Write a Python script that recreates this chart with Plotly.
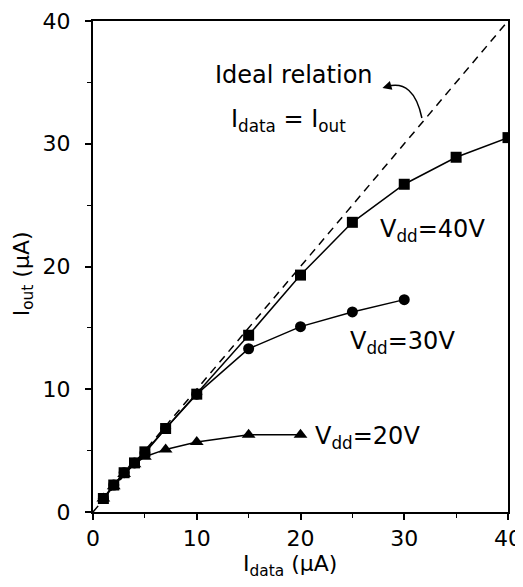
import plotly.graph_objects as go

# Data
x_40 = [1, 2, 3, 4, 5, 7, 10, 15, 20, 25, 30, 35, 40]
y_40 = [1.1, 2.2, 3.2, 4.0, 4.9, 6.8, 9.6, 14.4, 19.3, 23.6, 26.7, 28.9, 30.5]
x_30 = [1, 2, 3, 4, 5, 7, 10, 15, 20, 25, 30]
y_30 = [1.1, 2.2, 3.2, 4.0, 4.8, 6.8, 9.6, 13.3, 15.1, 16.3, 17.3]
x_20 = [1, 2, 3, 4, 5, 7, 10, 15, 20]
y_20 = [1.1, 2.1, 3.1, 3.9, 4.5, 5.1, 5.7, 6.3, 6.3]
ideal_x = [0, 40]
ideal_y = [0, 40]
tick_vals = [0, 10, 20, 30, 40]

FONT = "DejaVu Sans"

fig = go.Figure()
fig.add_trace(go.Scatter(x=ideal_x, y=ideal_y, mode="lines",
                         line=dict(color="black", width=1.5, dash="8px,6px"),
                         showlegend=False))
fig.add_trace(go.Scatter(x=x_20, y=y_20, mode="lines+markers",
                         line=dict(color="black", width=1.5),
                         marker=dict(symbol="triangle-up", size=12, color="black"),
                         showlegend=False))
fig.add_trace(go.Scatter(x=x_30, y=y_30, mode="lines+markers",
                         line=dict(color="black", width=1.5),
                         marker=dict(symbol="circle", size=11, color="black"),
                         showlegend=False))
fig.add_trace(go.Scatter(x=x_40, y=y_40, mode="lines+markers",
                         line=dict(color="black", width=1.5),
                         marker=dict(symbol="square", size=11, color="black"),
                         showlegend=False))

# curved arrow pointing from the ideal line to the label
fig.add_shape(type="path", xref="x", yref="y",
              path="M 31.7,32.1 Q 30.9,35.3 28.3,34.65",
              line=dict(color="black", width=1.5))
fig.add_annotation(x=27.9, y=34.55, ax=28.6, ay=34.72, xref="x", yref="y",
                   axref="x", ayref="y", text="", showarrow=True,
                   arrowhead=2, arrowsize=1.2, arrowwidth=1.5, arrowcolor="black")

ann_font = dict(family=FONT, size=24, color="black")
fig.add_annotation(x=11.6, y=35.6, xref="x", yref="y", text="Ideal relation",
                   showarrow=False, xanchor="left", yanchor="middle", font=ann_font)
fig.add_annotation(x=13.1, y=31.9, xref="x", yref="y",
                   text="I<sub>data</sub> = I<sub>out</sub>",
                   showarrow=False, xanchor="left", yanchor="middle", font=ann_font)
fig.add_annotation(x=27.5, y=22.9, xref="x", yref="y", text="V<sub>dd</sub>=40V",
                   showarrow=False, xanchor="left", yanchor="middle", font=ann_font)
fig.add_annotation(x=24.6, y=13.8, xref="x", yref="y", text="V<sub>dd</sub>=30V",
                   showarrow=False, xanchor="left", yanchor="middle", font=ann_font)
fig.add_annotation(x=21.2, y=6.1, xref="x", yref="y", text="V<sub>dd</sub>=20V",
                   showarrow=False, xanchor="left", yanchor="middle", font=ann_font)

# axis titles placed as annotations for exact positioning
title_font = dict(family=FONT, size=22, color="black")
fig.add_annotation(x=19.0, y=0, xref="x", yref="paper", yanchor="top", yshift=-37,
                   text="I<sub>data</sub> (μA)", showarrow=False, font=title_font)
fig.add_annotation(x=0, y=19.4, xref="paper", yref="y", xanchor="right", xshift=-53,
                   textangle=-90, text="I<sub>out</sub> (μA)", showarrow=False,
                   font=title_font)

axis_common = dict(
    range=[0, 40], tickvals=tick_vals, showgrid=False, zeroline=False,
    showline=True, linecolor="black", linewidth=2, mirror=True,
    ticks="outside", ticklen=6, tickwidth=1.5, tickcolor="black",
    tickfont=dict(family=FONT, size=22, color="black"),
    minor=dict(dtick=5, ticks="outside", ticklen=4, tickwidth=1.2, tickcolor="black"),
    automargin=False,
)
fig.update_xaxes(**axis_common, ticklabelstandoff=0)
fig.update_yaxes(**axis_common, ticklabelstandoff=10)

# page body adds an 8px offset; the figure is sized so the plot lands where the reference has it
fig.update_layout(width=515, height=579, autosize=False,
                  margin=dict(l=85, r=15, t=13, b=75),
                  plot_bgcolor="white", paper_bgcolor="white")

fig.write_html("out.html")
